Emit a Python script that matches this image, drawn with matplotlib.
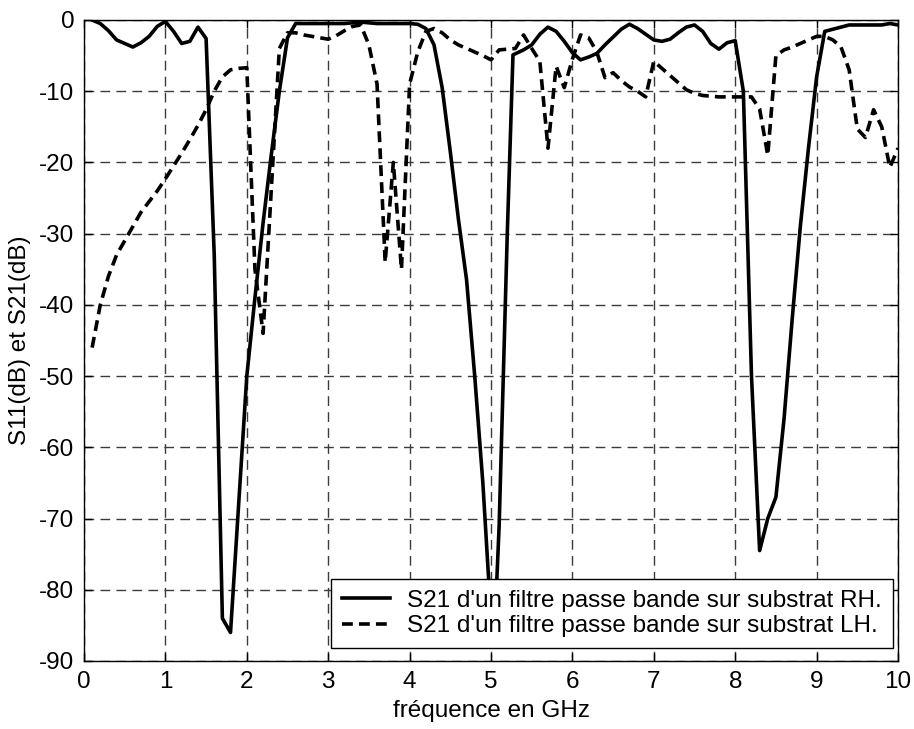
import matplotlib
matplotlib.use("Agg")
import matplotlib.pyplot as plt

plt.rcParams['font.family'] = ['Liberation Sans', 'DejaVu Sans']
plt.rcParams['axes.unicode_minus'] = False

# Frequency points (GHz) and S21 (dB) of the band-pass filter on RH substrate
freq_rh = [0.1, 0.2, 0.3, 0.4, 0.5, 0.6, 0.7, 0.8, 0.9, 1.0,
           1.1, 1.2, 1.3, 1.4, 1.5, 1.6, 1.7, 1.8, 1.9, 2.0,
           2.1, 2.2, 2.3, 2.4, 2.5, 2.6, 2.8, 3.0, 3.2, 3.4,
           3.6, 3.8, 4.0, 4.1, 4.2, 4.3, 4.4, 4.5, 4.6, 4.7,
           4.8, 4.9, 5.0, 5.04, 5.1, 5.2, 5.27, 5.4, 5.5, 5.6,
           5.7, 5.8, 5.9, 6.0, 6.1, 6.2, 6.3, 6.4, 6.5, 6.6,
           6.7, 6.8, 6.9, 7.0, 7.1, 7.2, 7.3, 7.4, 7.5, 7.6,
           7.7, 7.8, 7.9, 8.0, 8.1, 8.2, 8.3, 8.4, 8.5, 8.6,
           8.7, 8.8, 8.9, 9.0, 9.1, 9.2, 9.3, 9.4, 9.6, 9.8,
           9.9, 10.0]
s21_rh = [0.0, -0.5, -1.5, -2.8, -3.3, -3.8, -3.2, -2.3, -0.9, -0.2,
          -1.6, -3.3, -3.0, -1.0, -2.6, -33.0, -84.0, -86.0, -68.0, -50.0,
          -39.0, -28.5, -19.0, -10.0, -2.5, -0.5, -0.5, -0.5, -0.5, -0.3,
          -0.5, -0.5, -0.5, -0.6, -1.2, -3.5, -9.5, -18.5, -28.0, -36.5,
          -50.0, -65.0, -84.0, -87.0, -71.0, -30.0, -4.9, -4.2, -3.5, -2.0,
          -1.0, -1.6, -3.0, -4.6, -5.6, -5.2, -4.7, -3.5, -2.4, -1.3,
          -0.6, -1.2, -2.0, -2.8, -3.0, -2.7, -1.8, -1.0, -0.7, -1.6,
          -3.3, -4.1, -3.2, -2.9, -10.0, -50.0, -74.5, -70.0, -67.0, -56.0,
          -42.0, -29.0, -18.0, -8.0, -1.6, -1.3, -1.0, -0.7, -0.7, -0.7,
          -0.5, -0.7]

# Frequency points (GHz) and S21 (dB) of the band-pass filter on LH substrate
freq_lh = [0.1, 0.2, 0.3, 0.4, 0.5, 0.6, 0.7, 0.8, 0.9, 1.0,
           1.1, 1.2, 1.3, 1.4, 1.5, 1.6, 1.7, 1.8, 1.9, 2.0,
           2.1, 2.2, 2.3, 2.4, 2.5, 2.6, 2.7, 2.8, 2.9, 3.0,
           3.1, 3.2, 3.3, 3.4, 3.5, 3.6, 3.7, 3.8, 3.9, 4.0,
           4.1, 4.2, 4.3, 4.4, 4.5, 4.6, 4.7, 4.8, 4.9, 5.0,
           5.1, 5.2, 5.3, 5.4, 5.5, 5.6, 5.7, 5.8, 5.9, 6.0,
           6.1, 6.2, 6.3, 6.4, 6.5, 6.6, 6.7, 6.8, 6.9, 7.0,
           7.1, 7.2, 7.3, 7.4, 7.5, 7.6, 7.7, 7.8, 7.9, 8.0,
           8.1, 8.2, 8.3, 8.4, 8.5, 8.6, 8.7, 8.8, 8.9, 9.0,
           9.1, 9.2, 9.3, 9.4, 9.5, 9.6, 9.7, 9.8, 9.9, 10.0]
s21_lh = [-46.0, -40.0, -36.0, -33.0, -31.0, -29.0, -27.0, -25.5, -24.0, -22.3,
          -20.5, -18.7, -16.8, -14.8, -12.6, -10.0, -8.0, -7.0, -6.8, -6.7,
          -35.0, -44.0, -24.0, -4.0, -1.8, -1.8, -2.1, -2.3, -2.5, -2.7,
          -2.2, -1.5, -0.9, -0.7, -3.5, -9.0, -34.0, -20.0, -35.0, -9.0,
          -4.5, -1.6, -1.2, -1.8, -2.8, -3.5, -4.0, -4.5, -5.0, -5.6,
          -4.2, -4.1, -4.0, -2.1, -4.0, -5.8, -18.0, -6.5, -9.5, -5.5,
          -2.1, -2.5, -4.5, -8.1, -7.4, -8.5, -9.4, -10.0, -10.8, -5.8,
          -6.8, -7.8, -8.8, -9.8, -10.3, -10.6, -10.7, -10.8, -10.8, -10.8,
          -10.8, -10.8, -12.5, -19.0, -5.0, -4.2, -3.8, -3.3, -2.8, -2.3,
          -2.3, -2.8, -3.8, -7.0, -15.3, -16.5, -12.6, -15.0, -20.7, -18.0]

label_rh = "S21 d'un filtre passe bande sur substrat RH."
label_lh = "S21 d'un filtre passe bande sur substrat LH."

fs = 17.5

fig = plt.figure(figsize=(9.14, 7.29), dpi=100)
ax = fig.add_axes([0.0919, 0.0933, 0.8906, 0.8793])

ax.plot(freq_rh, s21_rh, color='black', linewidth=2.6, linestyle='-',
        label=label_rh, zorder=3)
ax.plot(freq_lh, s21_lh, color='black', linewidth=2.6,
        linestyle=(0, (3.0, 1.7)), label=label_lh, zorder=3)

ax.set_xlim(0, 10)
ax.set_ylim(-90, 0)
ax.set_xticks(range(0, 11))
ax.set_yticks(range(-90, 1, 10))

ax.grid(True, color='#3c3c3c', linestyle=(0, (7, 4.5)), linewidth=1.0)
ax.set_axisbelow(True)

ax.tick_params(direction='in', top=True, right=True, length=6, width=1,
               labelsize=fs, pad=7)
for sp in ax.spines.values():
    sp.set_linewidth(1.0)
    sp.set_color('black')

ax.set_xlabel('fréquence en GHz', fontsize=fs, labelpad=5)
ax.set_ylabel('S11(dB) et S21(dB)', fontsize=fs, labelpad=6)

leg = ax.legend(loc='lower right', bbox_to_anchor=(0.994, 0.02),
                borderaxespad=0, fontsize=fs, frameon=True, fancybox=False,
                framealpha=1, edgecolor='black', handlelength=2.0,
                handletextpad=0.7, borderpad=0.45, labelspacing=0.15)
leg.get_frame().set_linewidth(1.0)
leg.set_zorder(5)

fig.savefig('out.png', dpi=100)
